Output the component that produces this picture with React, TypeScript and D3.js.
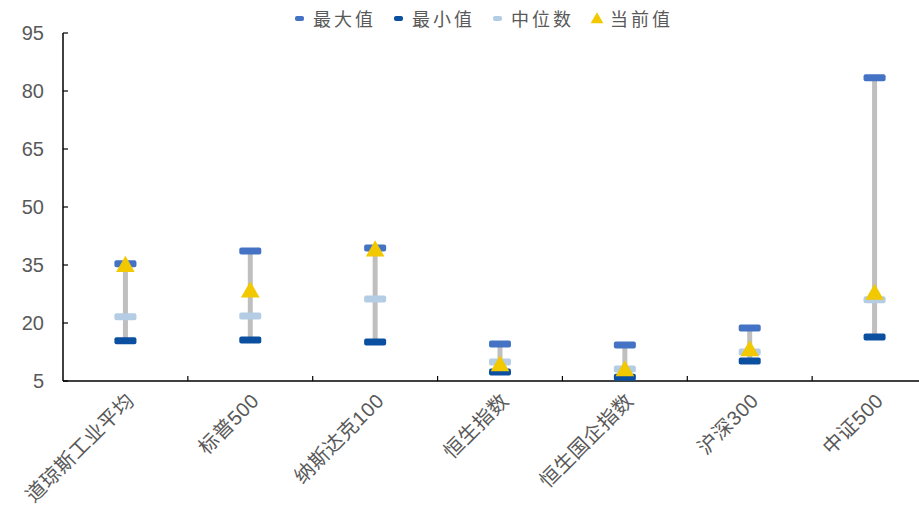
import React from "react";
import * as d3 from "d3";

const categories = ["道琼斯工业平均", "标普500", "纳斯达克100", "恒生指数", "恒生国企指数", "沪深300", "中证500"];
const maxValues = [35.3, 38.6, 39.4, 14.6, 14.3, 18.7, 83.4];
const minValues = [15.4, 15.6, 15.1, 7.3, 6.0, 10.2, 16.4];
const medianValues = [21.6, 21.8, 26.2, 9.9, 8.1, 12.5, 26.0];
const currentValues = [34.6, 28.0, 38.6, 8.9, 7.6, 12.8, 27.4];
const yTicks = [5, 20, 35, 50, 65, 80, 95];
const legendItems = ["最大值", "最小值", "中位数", "当前值"];

const W = 919, H = 512;
const left = 63, right = 937, top = 33, bottom = 381;
const C_MAX = "#4472c4", C_MIN = "#0a4fa0", C_MED = "#b4cce4", C_CUR = "#f2c800", C_LINE = "#bfbfbf";
const FONT = "'Liberation Sans', Arial, 'Noto Sans CJK SC', sans-serif";

export default function App() {
  const x = d3.scaleBand<string>().domain(categories).range([left, right]).paddingInner(0).paddingOuter(0);
  const y = d3.scaleLinear().domain([5, 95]).range([bottom, top]);
  const bw = x.bandwidth();
  const tri = d3.symbol().type(d3.symbolTriangle).size(150)() as string;
  const legendX = [295, 394, 493, 592];
  return (
    <svg width={W} height={H} style={{ position: "absolute", left: 0, top: 0, background: "#fff" }}>
      {/* legend */}
      {legendItems.map((name, i) => {
        const lx = legendX[i];
        const color = [C_MAX, C_MIN, C_MED, C_CUR][i];
        return (
          <g key={name}>
            {i < 3 ? (
              <rect x={lx} y={16} width={9} height={5} rx={2} fill={color} />
            ) : (
              <path d={d3.symbol().type(d3.symbolTriangle).size(70)() as string} transform={`translate(${lx + 5},${19.5})`} fill={color} />
            )}
            <text x={lx + 18} y={26} fontSize={18} fill="#595959" fontFamily={FONT} letterSpacing={3}>{name}</text>
          </g>
        );
      })}
      {/* y axis */}
      <line x1={left} x2={left} y1={top} y2={bottom} stroke="#000" strokeWidth={1.5} />
      {yTicks.map((t) => (
        <g key={t}>
          <line x1={left} x2={left + 5} y1={y(t)} y2={y(t)} stroke="#000" strokeWidth={1.2} />
          <text x={44} y={y(t) + 7} textAnchor="end" fontSize={20} fill="#595959" fontFamily={FONT}>{t}</text>
        </g>
      ))}
      {/* x axis */}
      <line x1={left} x2={W} y1={bottom} y2={bottom} stroke="#000" strokeWidth={1.5} />
      {categories.map((c, i) => (
        <line key={"t" + i} x1={(x(c) as number) + bw} x2={(x(c) as number) + bw} y1={bottom} y2={bottom - 5} stroke="#000" strokeWidth={1.2} />
      ))}
      {/* marks */}
      {categories.map((c, i) => {
        const cx = (x(c) as number) + bw / 2;
        const rw = 22, rh = 7;
        return (
          <g key={c}>
            <line x1={cx} x2={cx} y1={y(maxValues[i])} y2={y(minValues[i])} stroke={C_LINE} strokeWidth={5} />
            <rect x={cx - rw / 2} y={y(maxValues[i]) - rh / 2} width={rw} height={rh} rx={2} fill={C_MAX} />
            <rect x={cx - rw / 2} y={y(minValues[i]) - rh / 2} width={rw} height={rh} rx={2} fill={C_MIN} />
            <rect x={cx - rw / 2} y={y(medianValues[i]) - rh / 2} width={rw} height={rh} rx={2} fill={C_MED} />
            <path d={tri} transform={`translate(${cx},${y(currentValues[i])})`} fill={C_CUR} />
          </g>
        );
      })}
      {/* x labels */}
      {categories.map((c) => {
        const cx = (x(c) as number) + bw / 2;
        return (
          <text key={"l" + c} transform={`translate(${cx + 10},${402}) rotate(-45)`} textAnchor="end" fontSize={20} fill="#595959" fontFamily={FONT} letterSpacing={0.5}>{c}</text>
        );
      })}
    </svg>
  );
}
